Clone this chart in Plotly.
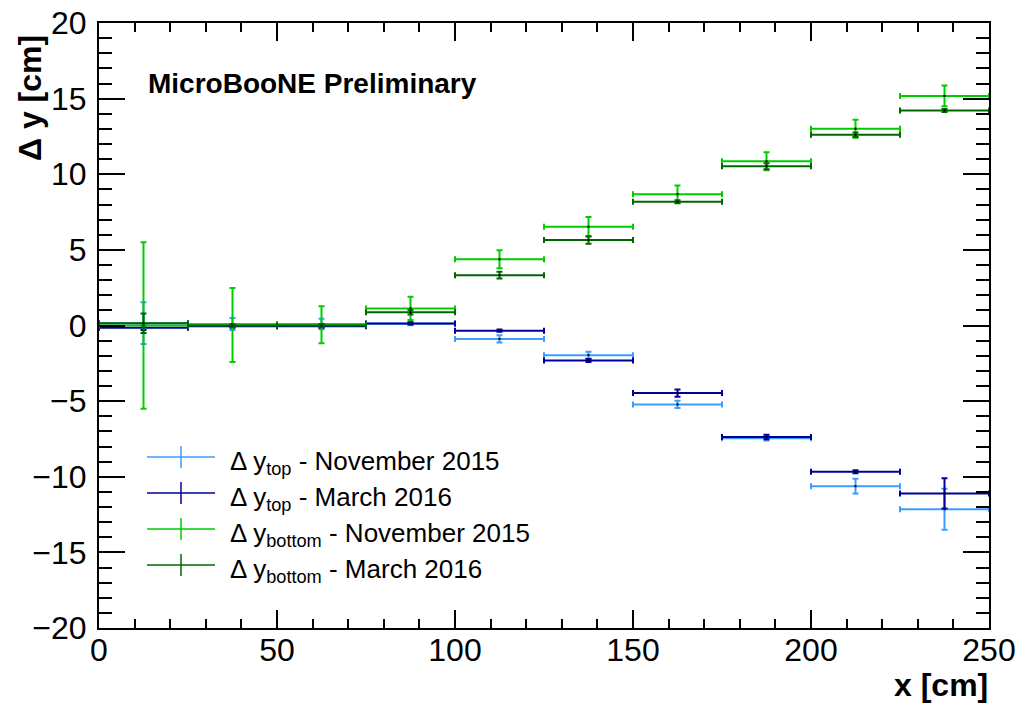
import plotly.graph_objects as go

# Bin layout along x (cm): ten 25 cm bins
bin_centers = [12.5, 37.5, 62.5, 87.5, 112.5, 137.5, 162.5, 187.5, 212.5, 237.5]
bin_half_width = [12.5] * 10

# Delta y_top, November 2015
top_nov = [0.15, 0.10, 0.10, 0.12, -0.89, -1.96, -5.22, -7.45, -10.62, -12.15]
top_nov_err = [1.38, 0.40, 0.35, 0.10, 0.24, 0.22, 0.24, 0.15, 0.48, 1.35]

# Delta y_top, March 2016
top_mar = [-0.15, -0.05, -0.05, 0.14, -0.34, -2.32, -4.47, -7.37, -9.67, -11.10]
top_mar_err = [0.15, 0.10, 0.10, 0.08, 0.08, 0.10, 0.24, 0.15, 0.10, 1.00]

# Delta y_bottom, November 2015
bot_nov = [0.00, 0.03, 0.05, 1.13, 4.38, 6.53, 8.68, 10.86, 13.01, 15.18]
bot_nov_err = [5.50, 2.45, 1.22, 0.77, 0.60, 0.64, 0.57, 0.59, 0.59, 0.68]

# Delta y_bottom, March 2016
bot_mar = [0.15, 0.00, 0.00, 0.87, 3.33, 5.65, 8.18, 10.53, 12.61, 14.22]
bot_mar_err = [0.65, 0.10, 0.10, 0.15, 0.23, 0.25, 0.10, 0.20, 0.15, 0.10]

series_labels = [
    "Δ y<sub>top</sub> - November 2015",
    "Δ y<sub>top</sub> - March 2016",
    "Δ y<sub>bottom</sub> - November 2015",
    "Δ y<sub>bottom</sub> - March 2016",
]
series_colors = ["#3d9cff", "#000099", "#00cc00", "#006600"]

W, H = 1023, 704
L, R, T, B = 99, 34, 23, 76
PW, PH = W - L - R, H - T - B


def px_x(px):
    return (px - L) / PW


def px_y(py):
    return (H - B - py) / PH


FONT = "Liberation Sans, Arial, sans-serif"

fig = go.Figure()

for yv, ev, col, name in zip(
    [top_nov, top_mar, bot_nov, bot_mar],
    [top_nov_err, top_mar_err, bot_nov_err, bot_mar_err],
    series_colors,
    series_labels,
):
    fig.add_trace(
        go.Scatter(
            x=bin_centers,
            y=yv,
            mode="markers",
            name=name,
            showlegend=False,
            marker=dict(symbol="square", size=2, color="black"),
            error_x=dict(type="data", array=bin_half_width, color=col,
                         thickness=2, width=3),
            error_y=dict(type="data", array=ev, color=col,
                         thickness=2, width=3),
        )
    )

axis_common = dict(
    showline=True,
    linecolor="black",
    linewidth=2,
    mirror="allticks",
    ticks="inside",
    tickcolor="black",
    tickwidth=1.5,
    showgrid=False,
    zeroline=False,
    automargin=False,
    tickfont=dict(family=FONT, size=32, color="black"),
)

fig.update_xaxes(
    range=[0, 250],
    tickmode="linear",
    tick0=0,
    dtick=50,
    ticklen=18,
    minor=dict(dtick=10, ticklen=9, ticks="inside", tickcolor="black",
               tickwidth=1.5, showgrid=False),
    ticklabelstandoff=-7,
    **axis_common,
)
fig.update_yaxes(
    range=[-20, 20],
    tickmode="linear",
    tick0=-20,
    dtick=5,
    ticklen=26,
    minor=dict(dtick=1, ticklen=13, ticks="inside", tickcolor="black",
               tickwidth=1.5, showgrid=False),
    ticklabelstandoff=4,
    **axis_common,
)

annotations = [
    dict(text="<b>MicroBooNE Preliminary</b>", x=px_x(146), y=px_y(84),
         xanchor="left", yanchor="middle",
         font=dict(family=FONT, size=28, color="black")),
    dict(text="<b>x [cm]</b>", x=px_x(990), y=px_y(685),
         xanchor="right", yanchor="middle",
         font=dict(family=FONT, size=32, color="black")),
    dict(text="<b>Δ y [cm]</b>", x=px_x(30), y=px_y(33),
         xanchor="center", yanchor="top", textangle=-90,
         font=dict(family=FONT, size=32, color="black")),
]

shapes = []
row_y = [457, 493, 529, 565]
for ry, col, name in zip(row_y, series_colors, series_labels):
    shapes.append(dict(type="line", xref="paper", yref="paper",
                       x0=px_x(147), x1=px_x(215), y0=px_y(ry), y1=px_y(ry),
                       line=dict(color=col, width=1.5)))
    shapes.append(dict(type="line", xref="paper", yref="paper",
                       x0=px_x(181), x1=px_x(181), y0=px_y(ry - 11), y1=px_y(ry + 11),
                       line=dict(color=col, width=1.5)))
    annotations.append(dict(text=name, x=px_x(228), y=px_y(ry),
                            xanchor="left", yanchor="middle", yshift=-5,
                            font=dict(family=FONT, size=26, color="black")))

for a in annotations:
    a.update(xref="paper", yref="paper", showarrow=False)

fig.update_layout(
    width=W,
    height=H,
    margin=dict(l=L, r=R, t=T, b=B),
    paper_bgcolor="white",
    plot_bgcolor="white",
    showlegend=False,
    annotations=annotations,
    shapes=shapes,
)

fig.write_html("out.html")
